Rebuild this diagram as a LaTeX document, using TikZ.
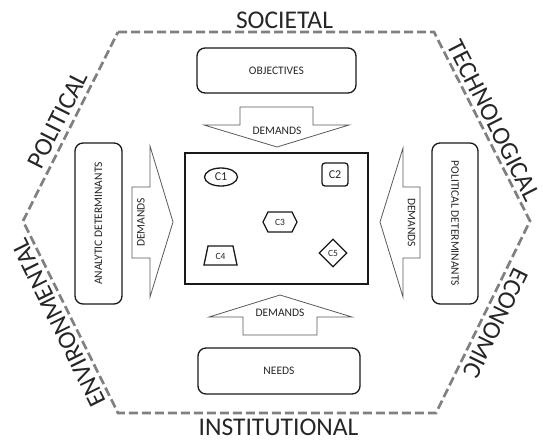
\documentclass[tikz,border=0pt]{standalone}
\usepackage{fontspec}
\setmainfont{Carlito}
\usetikzlibrary{shapes.geometric}
\begin{document}
\begin{tikzpicture}[x=1pt,y=-1pt,
  hexline/.style={draw=black!50, line width=2.7pt, dash pattern=on 9pt off 4pt},
  side/.style={font=\fontsize{25.5}{26}\selectfont, text=black!85, inner sep=0pt, anchor=base},
  box/.style={draw=black!90, line width=1.3pt, rounded corners=8pt, inner sep=0pt, font=\fontsize{11.5}{12}\selectfont, text=black!85},
  arr/.style={draw=black!65, line width=0.8pt, line join=miter},
  lbl/.style={font=\fontsize{11.5}{12}\selectfont, text=black!85, inner sep=0pt},
  small/.style={draw=black!90, line width=1.3pt, inner sep=0pt, text=black!85},
  tiny/.style={font=\fontsize{9.5}{10}\selectfont, text=black!85, inner sep=0pt},
]
\useasboundingbox (0,0) rectangle (543,440);

% hexagon frame
\coordinate (h1) at (118,32);
\coordinate (h2) at (434,32);
\coordinate (h3) at (530,221);
\coordinate (h4) at (436,413);
\coordinate (h5) at (118,413);
\coordinate (h6) at (23,221);
\draw[hexline] (h1) -- (h2) -- (h3) -- (h4) -- (h5) -- (h6) -- cycle;

% side labels
\node[side] (soc) at (284.5,28) {SOCIETAL};
\node[side] (inst) at (278.5,435.5) {INSTITUTIONAL};
\node[side, rotate=63.3] (pol) at (65.1,123.8) {POLITICAL};
\node[side, rotate=-63.1] (tech) at (486.5,124.2) {TECHNOLOGICAL};
\node[side, rotate=116.3] (env) at (66,319.2) {ENVIRONMENTAL};
\node[side, rotate=-116.1] (eco) at (488.4,319.6) {ECONOMIC};

% boxes
\node[box, minimum width=159pt, minimum height=45pt] (obj) at (276.5,70.5) {OBJECTIVES};
\node[box, minimum width=162pt, minimum height=46pt] (needs) at (279,371) {NEEDS};
\node[box, minimum width=47pt, minimum height=161pt] (ana) at (98.5,223.5) {};
\node[lbl, rotate=90] (anat) at (ana.center) {ANALYTIC DETERMINANTS};
\node[box, minimum width=46pt, minimum height=161pt] (poldet) at (455,223.5) {};
\node[lbl, rotate=-90] (poldett) at (poldet.center) {POLITICAL DETERMINANTS};

% central box
\node[draw=black!90, line width=1.6pt, minimum width=183pt, minimum height=131pt, inner sep=0pt] (core) at (276.5,218.5) {};

% block arrows
\draw[arr] (240,107) -- (313,107) -- (313,125) -- (349,125) -- (277,147) -- (204,125) -- (240,125) -- cycle;
\node[lbl] (dtop) at (277,131) {DEMANDS};
\draw[arr] (243,335) -- (317,335) -- (317,317) -- (352,317) -- (280,295) -- (209,317) -- (243,317) -- cycle;
\node[lbl] (dbot) at (280,313) {DEMANDS};
\draw[arr] (132,187) -- (150,187) -- (150,146) -- (173,222) -- (150,297) -- (150,258) -- (132,258) -- cycle;
\node[lbl, rotate=90] (dleft) at (141,222.5) {DEMANDS};
\draw[arr] (420,187) -- (403,187) -- (403,148) -- (380,222) -- (403,297) -- (403,258) -- (420,258) -- cycle;
\node[lbl, rotate=-90] (dright) at (411.5,222.5) {DEMANDS};

% components
\node[small, ellipse, minimum width=33pt, minimum height=18pt, font=\fontsize{12}{12}\selectfont] (c1) at (221,177) {C1};
\node[small, rounded corners=3pt, minimum width=26pt, minimum height=23pt, font=\fontsize{12}{12}\selectfont] (c2) at (335,174.5) {C2};
\node[tiny] (c3) at (280,222) {C3};
\draw[small] (c3.center) +(-17,0) -- +(-12,-10) -- +(12,-10) -- +(17,0) -- +(12,10) -- +(-12,10) -- cycle;
\node[tiny] (c4) at (220.5,256.5) {C4};
\draw[small] (c4.center) +(-12.5,-10.5) -- +(12.5,-10.5) -- +(16.5,8.5) -- +(-16.5,8.5) -- cycle;
\node[small, diamond, minimum width=28pt, minimum height=28pt, font=\fontsize{9.5}{10}\selectfont] (c5) at (333,253) {C5};
\end{tikzpicture}
\end{document}
